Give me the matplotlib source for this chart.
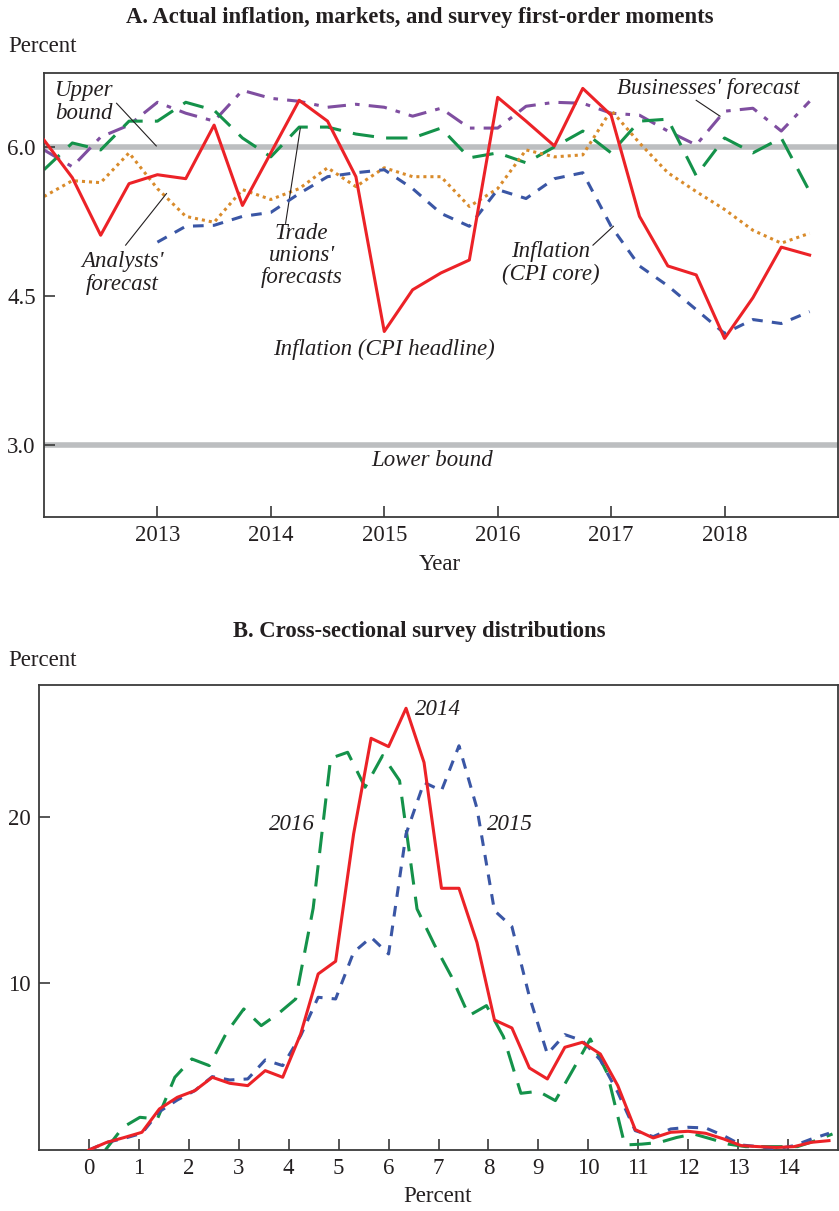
import matplotlib
matplotlib.use("Agg")
from matplotlib import pyplot as plt

plt.rcParams['font.family'] = ['Liberation Serif', 'DejaVu Serif']
plt.rcParams['font.size'] = 16

# Panel A data (quarterly)
quarters = [2012.0, 2012.25, 2012.5, 2012.75, 2013.0, 2013.25, 2013.5, 2013.75,
            2014.0, 2014.25, 2014.5, 2014.75, 2015.0, 2015.25, 2015.5, 2015.75,
            2016.0, 2016.25, 2016.5, 2016.75, 2017.0, 2017.25, 2017.5, 2017.75,
            2018.0, 2018.25, 2018.5, 2018.75]
cpi_headline = [6.07, 5.69, 5.11, 5.63, 5.72, 5.68, 6.22, 5.41,
                5.94, 6.47, 6.26, 5.70, 4.14, 4.56, 4.73, 4.86,
                6.50, 6.26, 6.01, 6.59, 6.32, 5.30, 4.80, 4.71,
                4.07, 4.48, 4.99, 4.91]
cpi_core = [5.04, 5.20, 5.21, 5.30, 5.34, 5.53, 5.70, 5.74,
            5.77, 5.58, 5.33, 5.20, 5.57, 5.48, 5.68, 5.74,
            5.20, 4.80, 4.60, 4.36, 4.12, 4.26, 4.22, 4.34]
trade_unions = [5.77, 6.04, 5.97, 6.26, 6.26, 6.45, 6.37, 6.09,
                5.90, 6.20, 6.20, 6.13, 6.09, 6.09, 6.19, 5.89,
                5.94, 5.84, 6.00, 6.16, 5.94, 6.26, 6.28, 5.71,
                6.09, 5.94, 6.09, 5.55]
businesses = [5.97, 5.80, 6.10, 6.22, 6.45, 6.34, 6.26, 6.57,
              6.49, 6.46, 6.40, 6.43, 6.40, 6.31, 6.39, 6.19,
              6.19, 6.41, 6.45, 6.44, 6.34, 6.32, 6.16, 6.02,
              6.36, 6.39, 6.16, 6.46]
analysts = [5.50, 5.66, 5.64, 5.94, 5.58, 5.30, 5.24, 5.57,
            5.47, 5.58, 5.79, 5.60, 5.79, 5.70, 5.70, 5.40,
            5.58, 5.97, 5.90, 5.92, 6.37, 6.04, 5.74, 5.55,
            5.37, 5.16, 5.03, 5.13]
upper_bound = 6.0
lower_bound = 3.0

# Panel B data (survey distributions)
x_2014_2015 = [0.0, 0.35, 0.71, 1.06, 1.41, 1.77, 2.12, 2.47, 2.82, 3.18, 3.53,
               3.88, 4.24, 4.59, 4.94, 5.3, 5.65, 6.0, 6.35, 6.71, 7.06, 7.41,
               7.77, 8.12, 8.47, 8.82, 9.18, 9.53, 9.88, 10.24, 10.59, 10.94,
               11.3, 11.65, 12.0, 12.35, 12.71, 13.06, 13.41, 13.77, 14.12,
               14.47, 14.82]
x_2016 = [0.33, 0.68, 1.02, 1.37, 1.72, 2.06, 2.41, 2.76, 3.1, 3.45, 3.8,
          4.14, 4.49, 4.84, 5.18, 5.53, 5.88, 6.22, 6.57, 6.92, 7.26, 7.61,
          7.96, 8.3, 8.65, 9.0, 9.34, 9.69, 10.04, 10.38, 10.73, 11.07,
          11.42, 11.77, 12.11, 12.46, 12.81, 13.15, 13.5, 13.85, 14.19,
          14.54, 14.89]
dist_2014 = [0.0, 0.45, 0.75, 1.06, 2.46, 3.16, 3.56, 4.36, 4.0, 3.86, 4.76,
             4.36, 6.96, 10.56, 11.32, 18.96, 24.7, 24.2, 26.5, 23.25, 15.7,
             15.7, 12.45, 7.8, 7.32, 4.92, 4.26, 6.16, 6.46, 5.76, 3.86, 1.22,
             0.72, 1.06, 1.12, 1.0, 0.66, 0.26, 0.2, 0.15, 0.2, 0.46, 0.56]
dist_2015 = [0.0, 0.45, 0.7, 1.0, 2.3, 3.0, 3.56, 4.4, 4.2, 4.26, 5.4,
             5.06, 6.86, 9.16, 9.06, 11.86, 12.76, 11.76, 18.96, 22.05, 21.56,
             24.25, 20.5, 14.36, 13.4, 9.2, 5.76, 6.92, 6.56, 5.4, 3.46, 1.16,
             0.8, 1.26, 1.36, 1.32, 0.86, 0.3, 0.2, 0.06, 0.26, 0.66, 1.0]
dist_2016 = [0.0, 1.36, 1.96, 1.86, 4.36, 5.46, 5.06, 7.06, 8.46, 7.46, 8.2,
             9.06, 14.5, 23.5, 23.86, 21.76, 23.66, 22.16, 14.46, 12.3, 10.4,
             8.06, 8.66, 6.8, 3.4, 3.52, 2.96, 4.8, 6.66, 4.6, 0.3, 0.35,
             0.45, 0.75, 0.96, 0.66, 0.35, 0.2, 0.2, 0.2, 0.2, 0.55, 0.96]

red = '#ec2227'
blue = '#3a56a5'
green = '#14924a'
purple = '#7f4ea0'
orange = '#d98b2b'
grey = '#bcbec0'
ink = '#231f20'

fig = plt.figure(figsize=(8.39, 12.11), dpi=100)


def style_axes(ax):
    for s in ax.spines.values():
        s.set_color('#3a3a3a')
        s.set_linewidth(1.3)
    ax.tick_params(direction='in', length=8, width=1.2, color='#3a3a3a',
                   labelsize=16.5, labelcolor=ink, pad=6)
    ax.tick_params(axis='x', top=False)
    ax.tick_params(axis='y', right=False)


# ---- Panel A ----
axA = fig.add_axes([0.0524, 0.5731, 0.9464, 0.3666])
axA.axhline(upper_bound, color=grey, lw=4, zorder=1)
axA.axhline(lower_bound, color=grey, lw=4, zorder=1)
axA.plot(quarters, businesses, color=purple, lw=2.2, dashes=(6, 3, 1.5, 3), zorder=2)
axA.plot(quarters, trade_unions, color=green, lw=2.2, dashes=(7, 4), zorder=2)
axA.plot(quarters, analysts, color=orange, lw=2.2, dashes=(1, 1.3), zorder=2)
axA.plot(quarters[4:], cpi_core, color=blue, lw=2.2, dashes=(3.5, 3), zorder=3)
axA.plot(quarters, cpi_headline, color=red, lw=2.2, zorder=4)
axA.set_xlim(2012, 2019)
axA.set_ylim(2.27, 6.745)
axA.set_xticks([2013, 2014, 2015, 2016, 2017, 2018])
axA.set_yticks([3.0, 4.5, 6.0])
axA.set_yticklabels(['3.0', '4.5', '6.0'])
style_axes(axA)

it = dict(style='italic', fontsize=16.5, color=ink)
axA.text(2012.1, 6.67, 'Upper\nbound', ha='left', va='top', linespacing=1.1, **it)
axA.plot([2012.64, 2012.99], [6.44, 6.01], color=ink, lw=0.8)
axA.text(2012.69, 4.95, "Analysts'\nforecast", ha='center', va='top', linespacing=1.1, **it)
axA.plot([2012.72, 2013.08], [5.01, 5.53], color=ink, lw=0.8)
axA.text(2014.27, 5.23, "Trade\nunions'\nforecasts", ha='center', va='top', linespacing=1.05, **it)
axA.plot([2014.13, 2014.26], [5.23, 6.19], color=ink, lw=0.8)
axA.text(2015.0, 3.96, 'Inflation (CPI headline)', ha='center', va='center', **it)
axA.text(2016.47, 5.05, 'Inflation\n(CPI core)', ha='center', va='top', linespacing=1.1, **it)
axA.plot([2016.84, 2017.02], [5.01, 5.2], color=ink, lw=0.8)
axA.text(2017.86, 6.59, "Businesses' forecast", ha='center', va='center', **it)
axA.plot([2017.75, 2017.96], [6.47, 6.31], color=ink, lw=0.8)
axA.text(2015.42, 2.84, 'Lower bound', ha='center', va='center', **it)

fig.text(0.5, 1 - 17 / 1211, 'A. Actual inflation, markets, and survey first-order moments',
         ha='center', va='center', fontsize=16.3, fontweight='bold', color=ink)
fig.text(8 / 839, 1 - 47 / 1211, 'Percent', ha='left', va='center', fontsize=16.5, color=ink)
fig.text(440 / 839, 1 - 565 / 1211, 'Year', ha='center', va='center', fontsize=16.5, color=ink)

# ---- Panel B ----
axB = fig.add_axes([0.0465, 0.0504, 0.9523, 0.384])
axB.plot(x_2016, dist_2016, color=green, lw=2.2, dashes=(7, 4), zorder=2)
axB.plot(x_2014_2015, dist_2015, color=blue, lw=2.2, dashes=(3.5, 3), zorder=3)
axB.plot(x_2014_2015, dist_2014, color=red, lw=2.2, zorder=4)
axB.set_xlim(-1, 15)
axB.set_ylim(0, 27.9)
axB.set_xticks(list(range(0, 15)))
axB.set_yticks([10, 20])
style_axes(axB)

axB.text(6.53, 26.4, '2014', ha='left', va='center', **it)
axB.text(7.97, 19.5, '2015', ha='left', va='center', **it)
axB.text(4.53, 19.5, '2016', ha='right', va='center', **it)

fig.text(0.5, 1 - 631 / 1211, 'B. Cross-sectional survey distributions',
         ha='center', va='center', fontsize=16.3, fontweight='bold', color=ink)
fig.text(8 / 839, 1 - 661 / 1211, 'Percent', ha='left', va='center', fontsize=16.5, color=ink)
fig.text(438 / 839, 1 - 1197 / 1211, 'Percent', ha='center', va='center', fontsize=16.5, color=ink)

fig.savefig('out.png', dpi=100)
